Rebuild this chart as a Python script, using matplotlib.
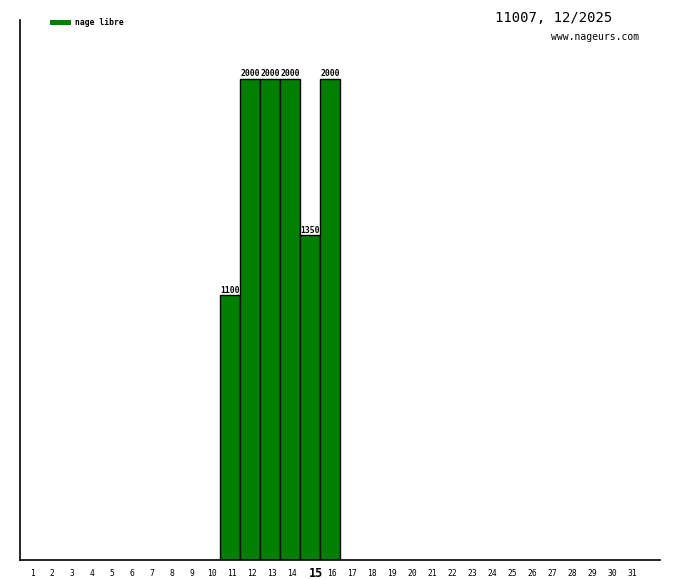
import matplotlib
matplotlib.use("Agg")
import matplotlib.pyplot as plt
from matplotlib.patches import Rectangle

days = list(range(1, 32))
bar_days = [11, 12, 13, 14, 15, 16]
bar_values = [1100, 2000, 2000, 2000, 1350, 2000]
highlight_day = 15
legend_label = "nage libre"
title_text = "11007, 12/2025"
site_text = "www.nageurs.com"
bar_color = "#008000"

W, H = 680, 580
fig = plt.figure(figsize=(W / 100, H / 100), dpi=100)
ax = fig.add_axes([20 / W, 20 / H, 640 / W, 540 / H])
ax.bar(bar_days, bar_values, width=1.0, color=bar_color, edgecolor="black", linewidth=1)
ax.set_xlim(0.5, 32.5)
ax.set_ylim(0, 2000 * 540 / 481)
for s in ["top", "right"]:
    ax.spines[s].set_visible(False)
for s in ["left", "bottom"]:
    ax.spines[s].set_linewidth(1.2)
ax.set_xticks([])
ax.set_yticks([])

mono = "DejaVu Sans Mono"
for d, v in zip(bar_days, bar_values):
    ax.annotate(str(v), (d, v), xytext=(0, 0.5), textcoords="offset points",
                ha="center", va="bottom", fontsize=5.8, family=mono, fontweight="bold")

for d in days:
    if d == highlight_day:
        ax.annotate(str(d), (d, 0), xytext=(4.5, -10), textcoords="offset points",
                    ha="center", va="center", fontsize=8.5, fontweight="bold", family=mono)
    else:
        ax.annotate(str(d), (d, 0), xytext=(1.5, -10), textcoords="offset points",
                    ha="center", va="center", fontsize=5.8, family=mono)

# legend
fig.patches.append(Rectangle((50 / W, 1 - 25 / H), 21 / W, 5 / H, transform=fig.transFigure,
                             facecolor=bar_color, edgecolor="none"))
fig.text(75 / W, 1 - 22.5 / H, legend_label, fontsize=5.8, family=mono, va="center", ha="left",
         fontweight="bold")
fig.text(612 / W, 1 - 18 / H, title_text, fontsize=10, family=mono, va="center", ha="right")
fig.text(639 / W, 1 - 37 / H, site_text, fontsize=7, family=mono, va="center", ha="right")

fig.savefig("out.png", dpi=100)
